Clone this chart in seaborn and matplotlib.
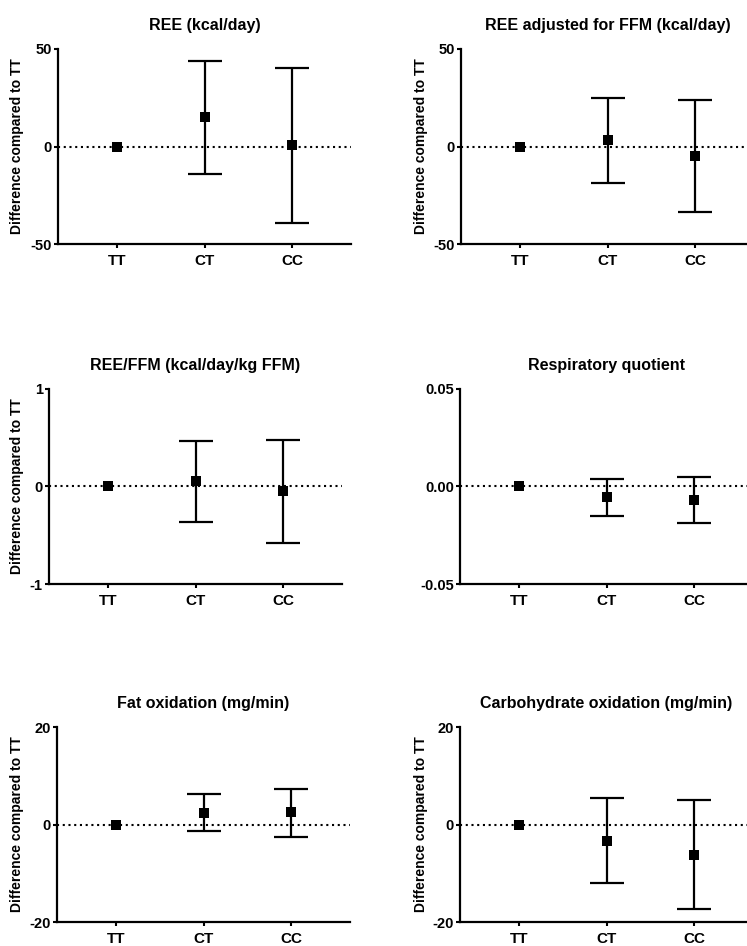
import numpy as np
import pandas as pd
import matplotlib
matplotlib.use("Agg")
import matplotlib.pyplot as plt
import seaborn as sns

# ---------------- data ----------------
categories = ["TT", "CT", "CC"]

titles = ["REE (kcal/day)", "REE adjusted for FFM (kcal/day)",
          "REE/FFM (kcal/day/kg FFM)", "Respiratory quotient",
          "Fat oxidation (mg/min)", "Carbohydrate oxidation (mg/min)"]

ree_mean = [0.0, 15.0, 0.7]
ree_low = [np.nan, -13.9, -39.0]
ree_high = [np.nan, 44.0, 40.0]

ree_adj_mean = [0.0, 3.3, -4.8]
ree_adj_low = [np.nan, -18.6, -33.4]
ree_adj_high = [np.nan, 25.1, 24.1]

ree_ffm_mean = [0.0, 0.06, -0.05]
ree_ffm_low = [np.nan, -0.36, -0.58]
ree_ffm_high = [np.nan, 0.47, 0.48]

rq_mean = [0.0, -0.0056, -0.0068]
rq_low = [np.nan, -0.0149, -0.0185]
rq_high = [np.nan, 0.0036, 0.0051]

fat_mean = [0.0, 2.3, 2.5]
fat_low = [np.nan, -1.3, -2.5]
fat_high = [np.nan, 6.2, 7.3]

cho_mean = [0.0, -3.3, -6.2]
cho_low = [np.nan, -11.9, -17.4]
cho_high = [np.nan, 5.4, 5.1]

y_limits = [50, 50, 1, 0.05, 20, 20]
y_ticklabels = [["-50", "0", "50"], ["-50", "0", "50"], ["-1", "0", "1"],
                ["-0.05", "0.00", "0.05"], ["-20", "0", "20"], ["-20", "0", "20"]]
show_ylabel = [True, True, True, False, True, True]

means = [ree_mean, ree_adj_mean, ree_ffm_mean, rq_mean, fat_mean, cho_mean]
lows = [ree_low, ree_adj_low, ree_ffm_low, rq_low, fat_low, cho_low]
highs = [ree_high, ree_adj_high, ree_ffm_high, rq_high, fat_high, cho_high]

# ---------------- style ----------------
sns.set_theme(style="ticks")
plt.rcParams["font.family"] = ["Liberation Sans", "DejaVu Sans"]
plt.rcParams["font.weight"] = "bold"
plt.rcParams["axes.unicode_minus"] = False
for k in ["text.color", "axes.labelcolor", "xtick.color", "ytick.color",
          "axes.edgecolor", "axes.titlecolor"]:
    plt.rcParams[k] = "black"

W, H = 747, 946
fig = plt.figure(figsize=(W / 100, H / 100), dpi=100)

lefts = [58, 461, 49, 460, 57, 460]
tops = [49, 49, 389, 389, 727, 727]
ax_w, ax_h = 293, 195
ylabel_x = [24, 428, 24, 428, 24, 428]

for i in range(6):
    L, T = lefts[i], tops[i]
    ax = fig.add_axes([L / W, 1 - (T + ax_h) / H, ax_w / W, ax_h / H])
    df = pd.DataFrame({"x": np.arange(3), "genotype": categories,
                       "mean": means[i], "low": lows[i], "high": highs[i]})
    lim = y_limits[i]

    ax.axhline(0, color="black", lw=1.5, ls=(0, (1, 1.75)), zorder=1)

    eb = df.dropna()
    ax.errorbar(eb["x"], eb["mean"],
                yerr=[eb["mean"] - eb["low"], eb["high"] - eb["mean"]],
                fmt="none", ecolor="black", elinewidth=1.6,
                capsize=12, capthick=1.6, zorder=2)
    sns.scatterplot(data=df, x="x", y="mean", marker="s", s=44,
                    color="black", linewidth=0, ax=ax, zorder=3)

    ax.set_xlim(-0.675, 2.675)
    ax.set_ylim(-lim, lim)
    ax.set_xticks(np.arange(3))
    ax.set_xticklabels(categories, fontsize=11, fontweight="bold")
    ax.set_yticks([-lim, 0, lim])
    ax.set_yticklabels(y_ticklabels[i], fontsize=10.5, fontweight="bold")
    ax.set_xlabel("")
    if show_ylabel[i]:
        ax.set_ylabel("Difference compared to TT", fontsize=10,
                      fontweight="bold", color="black")
        ax.yaxis.set_label_coords((ylabel_x[i] - L) / ax_w, 0.5)
    else:
        ax.set_ylabel("")
    ax.set_title(titles[i], fontsize=11.5, fontweight="bold", pad=14,
                 color="black")

    for s in ["top", "right"]:
        ax.spines[s].set_visible(False)
    for s in ["left", "bottom"]:
        ax.spines[s].set_linewidth(1.6)
        ax.spines[s].set_color("black")
    ax.tick_params(axis="both", length=3, width=1.5, color="black",
                   labelcolor="black")
    ax.tick_params(axis="y", pad=1.5)
    ax.tick_params(axis="x", pad=4)
    ax.set_facecolor("white")

fig.savefig("out.png", dpi=100, facecolor="white")
